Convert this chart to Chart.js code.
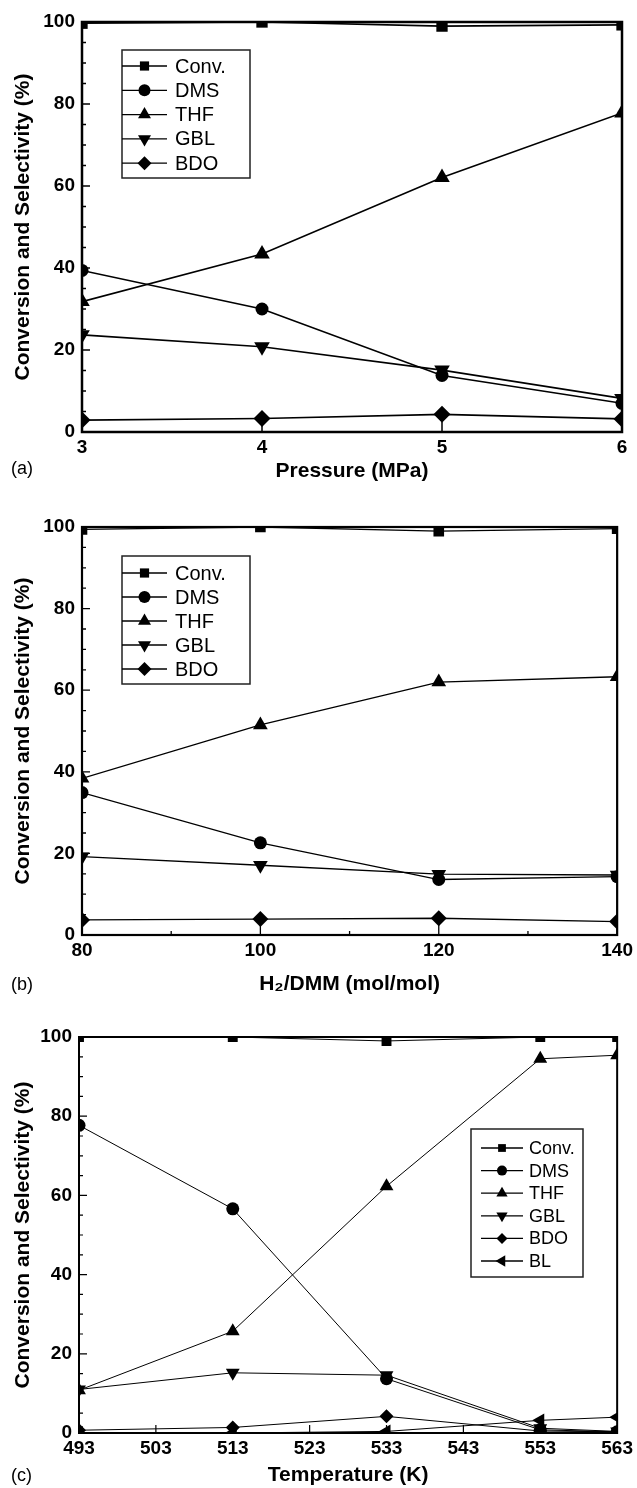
<!DOCTYPE html>
<html>
<head>
<meta charset="utf-8">
<script src="https://cdn.jsdelivr.net/npm/chart.js@4.4.1/dist/chart.umd.min.js"></script>
<style>
  body { margin: 0; background: #fff; width: 637px; height: 1488px; position: relative; overflow: hidden; }
  canvas { position: absolute; left: 0; }
  .tag { position: absolute; left: 11px; font: 18px "Liberation Sans", Arial, sans-serif; color: #000; }
</style>
</head>
<body>
<canvas id="chartA" width="637" height="490" style="top:0"></canvas>
<canvas id="chartB" width="637" height="510" style="top:490px"></canvas>
<canvas id="chartC" width="637" height="488" style="top:1000px"></canvas>
<div class="tag" style="top:458px">(a)</div>
<div class="tag" style="top:974px">(b)</div>
<div class="tag" style="top:1465px">(c)</div>
<script>
// shared y axis
var yTicks = [0, 20, 40, 60, 80, 100];

// (a) pressure series
var pressure = [3, 4, 5, 6];
var pConv = [99.7, 100, 99.0, 99.3];
var pDMS = [39.4, 30.0, 13.8, 7.0];
var pTHF = [31.8, 43.4, 62.1, 77.8];
var pGBL = [23.7, 20.8, 15.1, 8.2];
var pBDO = [2.9, 3.3, 4.3, 3.2];

// (b) H2/DMM ratio series
var ratio = [80, 100, 120, 140];
var ratioTicks = [80, 100, 120, 140];
var rConv = [99.4, 100, 99.0, 99.6];
var rDMS = [34.9, 22.6, 13.6, 14.3];
var rTHF = [38.4, 51.5, 62.0, 63.3];
var rGBL = [19.2, 17.1, 14.9, 14.7];
var rBDO = [3.7, 3.9, 4.1, 3.3];

// (c) temperature series
var temperature = [493, 513, 533, 553, 563];
var tempTicks = [493, 503, 513, 523, 533, 543, 553, 563];
var tConv = [100, 100, 99.0, 100, 100];
var tDMS = [77.7, 56.6, 13.7, 0.8, 0.3];
var tTHF = [10.8, 25.7, 62.3, 94.5, 95.4];
var tGBL = [11.0, 15.2, 14.6, 1.2, 0.4];
var tBDO = [0.7, 1.4, 4.2, 0.5, 0.3];
var tBL = [0, 0, 0.4, 3.2, 4.0];

Chart.defaults.font.family = '"Liberation Sans", Arial, sans-serif';
Chart.defaults.color = '#000';

// marker looks for each series
var styles = {
  'Conv.': { pointStyle: 'rect', rotation: 0 },
  DMS: { pointStyle: 'circle', rotation: 0 },
  THF: { pointStyle: 'triangle', rotation: 0 },
  GBL: { pointStyle: 'triangle', rotation: 180 },
  BDO: { pointStyle: 'rectRot', rotation: 0 },
  BL: { pointStyle: 'triangle', rotation: 270 }
};

function makeSet(label, xs, ys, radius, lw) {
  return {
    label: label,
    data: xs.map(function (x, i) { return { x: x, y: ys[i] }; }),
    borderColor: '#000',
    backgroundColor: '#000',
    borderWidth: lw,
    pointStyle: styles[label].pointStyle,
    pointRotation: styles[label].rotation,
    pointRadius: radius,
    pointBorderWidth: 0,
    tension: 0
  };
}

function marker(ctx, style, rot, r, x, y) {
  if (Chart.helpers && Chart.helpers.drawPoint) {
    Chart.helpers.drawPoint(ctx, { pointStyle: style, rotation: rot, radius: r, borderWidth: 0 }, x, y);
    return;
  }
  ctx.beginPath(); ctx.arc(x, y, r, 0, Math.PI * 2); ctx.fill();
}

// frame round the plot with inward ticks
var frame = {
  id: 'frame',
  afterDatasetsDraw: function (chart, args, o) {
    var ctx = chart.ctx, a = chart.chartArea;
    var xs = chart.scales.x, ys = chart.scales.y;
    ctx.save();
    ctx.strokeStyle = '#000';
    ctx.lineWidth = o.tickWidth;
    ctx.beginPath();
    for (var v = 0; v <= 100; v += 5) {
      var py = ys.getPixelForValue(v);
      var len = v % 20 === 0 ? 8 : 4;
      ctx.moveTo(a.left, py); ctx.lineTo(a.left + len, py);
    }
    o.xMajor.forEach(function (v) {
      var px = xs.getPixelForValue(v);
      ctx.moveTo(px, a.bottom); ctx.lineTo(px, a.bottom - o.majorLen);
    });
    o.xMinor.forEach(function (v) {
      var px = xs.getPixelForValue(v);
      ctx.moveTo(px, a.bottom); ctx.lineTo(px, a.bottom - o.minorLen);
    });
    ctx.stroke();
    ctx.lineWidth = o.width;
    ctx.strokeRect(a.left, a.top, a.right - a.left, a.bottom - a.top);
    ctx.restore();
  }
};

// legend box with a line through each marker
var lineLegend = {
  id: 'lineLegend',
  afterDraw: function (chart, args, o) {
    var ctx = chart.ctx, a = chart.chartArea;
    var x = a.left + o.x, y = a.top + o.y;
    ctx.save();
    ctx.fillStyle = '#fff';
    ctx.fillRect(x, y, o.w, o.h);
    ctx.strokeStyle = '#222';
    ctx.lineWidth = 1.5;
    ctx.strokeRect(x, y, o.w, o.h);
    ctx.font = o.fontSize + 'px "Liberation Sans", Arial, sans-serif';
    ctx.textBaseline = 'middle';
    chart.data.datasets.forEach(function (ds, i) {
      var yy = y + o.first + i * o.gap;
      ctx.strokeStyle = '#000';
      ctx.fillStyle = '#000';
      ctx.lineWidth = 1.3;
      ctx.beginPath();
      ctx.moveTo(x + o.lineL, yy); ctx.lineTo(x + o.lineR, yy);
      ctx.stroke();
      marker(ctx, ds.pointStyle, ds.pointRotation, o.radius[ds.label], x + (o.lineL + o.lineR) / 2, yy);
      ctx.fillText(ds.label, x + o.textX, yy + 1);
    });
    ctx.restore();
  }
};

function makeChart(id, cfg) {
  return new Chart(document.getElementById(id).getContext('2d'), {
    type: 'line',
    data: { datasets: cfg.datasets },
    plugins: [frame, lineLegend],
    options: {
      responsive: false,
      animation: false,
      layout: { padding: { left: 0, top: cfg.top, right: cfg.right, bottom: 0 } },
      plugins: {
        legend: { display: false },
        tooltip: { enabled: false },
        frame: cfg.frame,
        lineLegend: cfg.legend
      },
      scales: {
        x: {
          type: 'linear',
          min: cfg.xMin, max: cfg.xMax,
          grid: { display: false, drawTicks: false },
          border: { display: false },
          afterBuildTicks: function (s) { s.ticks = cfg.xTicks.map(function (v) { return { value: v }; }); },
          afterFit: function (s) { s.height = cfg.xHeight; },
          ticks: { padding: 4, font: { size: 19, weight: 'bold' }, maxRotation: 0, autoSkip: false,
                   callback: function (v) { return String(v); } },
          title: { display: true, text: cfg.xTitle, font: { size: 21, weight: 'bold', lineHeight: 1 },
                   padding: { top: 0, bottom: cfg.xTitlePad } }
        },
        y: {
          min: 0, max: 100,
          grid: { display: false, drawTicks: false },
          border: { display: false },
          afterBuildTicks: function (s) { s.ticks = yTicks.map(function (v) { return { value: v }; }); },
          afterFit: function (s) { s.width = cfg.left; },
          ticks: { padding: 7, font: { size: 19, weight: 'bold' } },
          title: { display: true, text: 'Conversion and Selectivity (%)',
                   font: { size: 21, weight: 'bold', lineHeight: 1 }, padding: { top: 13, bottom: 0 } }
        }
      }
    }
  });
}

var radA = { Conv: 8, DMS: 6.5, THF: 9, GBL: 9, BDO: 8.5 };
makeChart('chartA', {
  top: 22, right: 15, left: 82, xHeight: 58, xTitlePad: 8,
  xMin: 3, xMax: 6, xTicks: pressure, xTitle: 'Pressure (MPa)',
  frame: { width: 2.5, tickWidth: 1.5, xMajor: [4, 5], xMinor: [], majorLen: 10, minorLen: 5 },
  legend: { x: 40, y: 28, w: 128, h: 128, first: 16, gap: 24.3, lineL: 0, lineR: 45, textX: 53, fontSize: 20,
            radius: { 'Conv.': 6.5, DMS: 6, THF: 7.5, GBL: 7.5, BDO: 7 } },
  datasets: [
    makeSet('Conv.', pressure, pConv, radA.Conv, 1.6),
    makeSet('DMS', pressure, pDMS, radA.DMS, 1.6),
    makeSet('THF', pressure, pTHF, radA.THF, 1.6),
    makeSet('GBL', pressure, pGBL, radA.GBL, 1.6),
    makeSet('BDO', pressure, pBDO, radA.BDO, 1.6)
  ]
});

var radB = { Conv: 7.5, DMS: 6.5, THF: 8.5, GBL: 8.5, BDO: 8 };
makeChart('chartB', {
  top: 37, right: 15, left: 82, xHeight: 65, xTitlePad: 5,
  xMin: 80, xMax: 140, xTicks: ratioTicks, xTitle: 'H\u2082/DMM (mol/mol)',
  frame: { width: 2.2, tickWidth: 1.3, xMajor: [100, 120], xMinor: [90, 110, 130], majorLen: 10, minorLen: 4 },
  legend: { x: 40, y: 29, w: 128, h: 128, first: 17, gap: 24, lineL: 0, lineR: 45, textX: 53, fontSize: 20,
            radius: { 'Conv.': 6.5, DMS: 6, THF: 7.5, GBL: 7.5, BDO: 7 } },
  datasets: [
    makeSet('Conv.', ratio, rConv, radB.Conv, 1.3),
    makeSet('DMS', ratio, rDMS, radB.DMS, 1.3),
    makeSet('THF', ratio, rTHF, radB.THF, 1.3),
    makeSet('GBL', ratio, rGBL, radB.GBL, 1.3),
    makeSet('BDO', ratio, rBDO, radB.BDO, 1.3)
  ]
});

var radC = { Conv: 7, DMS: 6.5, THF: 8, GBL: 8, BDO: 7, BL: 8 };
makeChart('chartC', {
  top: 37, right: 19, left: 79, xHeight: 55, xTitlePad: 2,
  xMin: 493, xMax: 563, xTicks: tempTicks, xTitle: 'Temperature (K)',
  frame: { width: 2, tickWidth: 1.2, xMajor: [513, 533, 553], xMinor: [503, 523, 543], majorLen: 8, minorLen: 8 },
  legend: { x: 392, y: 92, w: 112, h: 148, first: 19, gap: 22.6, lineL: 10, lineR: 52, textX: 58, fontSize: 18,
            radius: { 'Conv.': 5.5, DMS: 5, THF: 6.5, GBL: 6.5, BDO: 5.5, BL: 6.5 } },
  datasets: [
    makeSet('Conv.', temperature, tConv, radC.Conv, 1),
    makeSet('DMS', temperature, tDMS, radC.DMS, 1),
    makeSet('THF', temperature, tTHF, radC.THF, 1),
    makeSet('GBL', temperature, tGBL, radC.GBL, 1),
    makeSet('BDO', temperature, tBDO, radC.BDO, 1),
    makeSet('BL', temperature, tBL, radC.BL, 1)
  ]
});
</script>
</body>
</html>
